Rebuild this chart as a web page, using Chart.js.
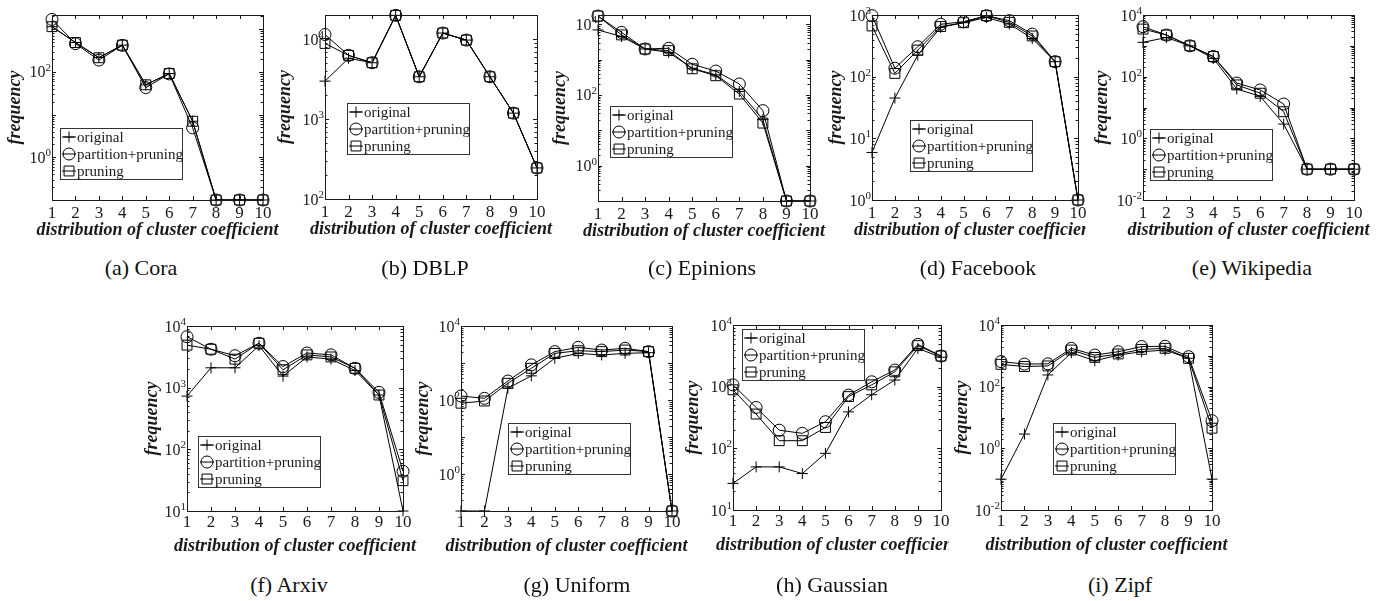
<!DOCTYPE html>
<html>
<head>
<meta charset="utf-8">
<script src="https://cdn.jsdelivr.net/npm/chart.js@4.4.1/dist/chart.umd.min.js"></script>
<style>
  body { margin: 0; background: #fff; width: 1393px; height: 601px; position: relative; overflow: hidden; }
  canvas { position: absolute; }
  .cap { position: absolute; font-family: "Liberation Serif", serif; font-size: 22px; color: #111;
         transform: translate(-50%, -50%); white-space: nowrap; }
</style>
</head>
<body>
<script>
// x categories shared by every panel
const categories = ['1', '2', '3', '4', '5', '6', '7', '8', '9', '10'];
const seriesNames = ['original', 'partition+pruning', 'pruning'];

// (a) Cora
const coraOriginal  = [1150, 490, 218, 425, 50, 92, 7, 0.1, 0.1, 0.1];
const coraPartition = [1700, 460, 190, 420, 43, 90, 4.9, 0.1, 0.1, 0.1];
const coraPruning   = [1150, 490, 215, 425, 50, 92, 7, 0.1, 0.1, 0.1];
const coraTicks = [1, 100];

// (b) DBLP
const dblpOriginal  = [3000, 5800, 5100, 20000, 3400, 12000, 9800, 3400, 1190, 245];
const dblpPartition = [11500, 6300, 5100, 20000, 3400, 12000, 9800, 3400, 1190, 245];
const dblpPruning   = [8900, 6300, 5100, 20000, 3400, 12000, 9800, 3400, 1190, 245];
const dblpTicks = [100, 1000, 10000];

// (c) Epinions
const epinionsOriginal  = [6900, 4500, 2000, 1600, 570, 370, 126, 20, 0.1, 0.1];
const epinionsPartition = [17100, 5900, 2000, 2100, 740, 475, 205, 36, 0.1, 0.1];
const epinionsPruning   = [17100, 5000, 2000, 1800, 550, 350, 106, 16, 0.1, 0.1];
const epinionsTicks = [1, 100, 10000];

// (d) Facebook
const facebookOriginal  = [5.9, 45, 223, 630, 750, 910, 715, 416, 175, 1];
const facebookPartition = [975, 137, 306, 707, 780, 975, 810, 490, 175, 1];
const facebookPruning   = [665, 113, 270, 650, 750, 975, 760, 457, 175, 1];
const facebookTicks = [1, 10, 100, 1000];

// (e) Wikipedia
const wikiOriginal  = [1300, 1860, 1000, 390, 40, 23, 2.9, 0.1, 0.1, 0.1];
const wikiPartition = [4170, 2240, 1000, 450, 62, 37, 13, 0.1, 0.1, 0.1];
const wikiPruning   = [3500, 2240, 1000, 450, 54, 29, 7.3, 0.1, 0.1, 0.1];
const wikiTicks = [0.01, 1, 100, 10000];

// (f) Arxiv
const arxivOriginal  = [730, 2100, 2100, 4800, 1540, 3150, 2900, 1900, 760, 10];
const arxivPartition = [6700, 4200, 3300, 5250, 2200, 3650, 3400, 2060, 840, 44];
const arxivPruning   = [4900, 4200, 2900, 5250, 1950, 3400, 3150, 2060, 760, 31];
const arxivTicks = [10, 100, 1000, 10000];

// (g) Uniform
const uniformOriginal  = [0.1, 0.1, 208, 450, 1340, 1820, 1650, 1820, 1900, 0.1];
const uniformPartition = [128, 111, 326, 890, 2030, 2650, 2240, 2500, 2030, 0.1];
const uniformPruning   = [82, 94, 283, 720, 1820, 2150, 2030, 2240, 2030, 0.1];
const uniformTicks = [1, 100, 10000];

// (h) Gaussian
const gaussOriginal  = [27, 50, 50, 39, 83, 390, 740, 1280, 4170, 3000];
const gaussPartition = [1070, 460, 197, 175, 270, 730, 1200, 1860, 4850, 3140];
const gaussPruning   = [890, 360, 133, 133, 218, 690, 1070, 1740, 4630, 3140];
const gaussTicks = [10, 100, 1000, 10000];

// (i) Zipf
const zipfOriginal  = [0.1, 2.9, 240, 1260, 690, 1060, 1360, 1540, 830, 0.1];
const zipfPartition = [650, 540, 550, 1750, 1060, 1360, 2000, 2040, 940, 7.9];
const zipfPruning   = [530, 450, 470, 1540, 890, 1150, 1620, 1750, 830, 4.5];
const zipfTicks = [0.01, 1, 100, 10000];

const SERIF = '"Liberation Serif", "Times New Roman", serif';
const INK = '#1a1a1a';
const TITLE_SIZE = 18;
const X_TITLE = 'distribution of cluster coefficient';

// plot box in page px: [left, top, right, bottom]
const panels = [
  { cap: '(a) Cora',      capX: 141,  capY: 268, box: [52, 15, 263, 200],   ymin: 0.1, ymax: 2160,  ticks: coraTicks,     data: [coraOriginal, coraPartition, coraPruning],             leg: [8, 113], yGap: 37, xGap: 30.5, tGap: 14, rpad: 18 },
  { cap: '(b) DBLP',      capX: 425,  capY: 268, box: [325, 15, 537, 199],  ymin: 100, ymax: 20200, ticks: dblpTicks,     data: [dblpOriginal, dblpPartition, dblpPruning],             leg: [22, 88], yGap: 40, xGap: 30.5, tGap: 14, rpad: 18 },
  { cap: '(c) Epinions',  capX: 702,  capY: 268, box: [598, 15, 810, 201],  ymin: 0.1, ymax: 18300, ticks: epinionsTicks, data: [epinionsOriginal, epinionsPartition, epinionsPruning], leg: [12, 91], yGap: 38, xGap: 30.5, tGap: 14, rpad: 18 },
  { cap: '(d) Facebook',  capX: 978,  capY: 268, box: [872, 15, 1083, 200], ymin: 1,   ymax: 1000,  ticks: facebookTicks, data: [facebookOriginal, facebookPartition, facebookPruning], leg: [38, 105], yGap: 36, xGap: 30.5, tGap: 14, rpad: 3 },
  { cap: '(e) Wikipedia', capX: 1252, capY: 268, box: [1143, 15, 1354, 200],ymin: 0.01, ymax: 10000, ticks: wikiTicks,    data: [wikiOriginal, wikiPartition, wikiPruning],             leg: [7, 114], yGap: 41, xGap: 30.5, tGap: 14, rpad: 22 },
  { cap: '(f) Arxiv',     capX: 289,  capY: 585, box: [187, 326, 403, 511], ymin: 10,  ymax: 10000, ticks: arxivTicks,    data: [arxivOriginal, arxivPartition, arxivPruning],          leg: [11, 110], yGap: 35, xGap: 35, tGap: 12, rpad: 18 },
  { cap: '(g) Uniform',   capX: 577,  capY: 585, box: [461, 326, 672, 511], ymin: 0.1, ymax: 10000, ticks: uniformTicks,  data: [uniformOriginal, uniformPartition, uniformPruning],    leg: [47, 97], yGap: 38, xGap: 35, tGap: 12, rpad: 18 },
  { cap: '(h) Gaussian',  capX: 832,  capY: 585, box: [733, 325, 944, 510], ymin: 10,  ymax: 10000, ticks: gaussTicks,    data: [gaussOriginal, gaussPartition, gaussPruning],          leg: [9, 4], yGap: 40, xGap: 35, tGap: 12, rpad: 5 },
  { cap: '(i) Zipf',      capX: 1120, capY: 585, box: [1001, 325, 1212, 510], ymin: 0.01, ymax: 10000, ticks: zipfTicks, data: [zipfOriginal, zipfPartition, zipfPruning],             leg: [52, 98], yGap: 39, xGap: 35, tGap: 12, rpad: 18 }
];

const markerStyles = [
  { pointStyle: 'cross', pointRadius: 5.5 },
  { pointStyle: 'circle', pointRadius: 6 },
  { pointStyle: 'rect', pointRadius: 7 }
];

function drawMarker(ctx, style, x, y, r) {
  ctx.beginPath();
  if (style === 'cross') {
    ctx.moveTo(x - r, y); ctx.lineTo(x + r, y);
    ctx.moveTo(x, y - r); ctx.lineTo(x, y + r);
  } else if (style === 'circle') {
    ctx.arc(x, y, r, 0, Math.PI * 2);
  } else {
    const s = r * Math.SQRT1_2;
    ctx.rect(x - s, y - s, 2 * s, 2 * s);
  }
  ctx.stroke();
}

// box, inward ticks, 10^n labels, x title and the legend, matlab style
const matlabFrame = {
  id: 'matlabFrame',
  afterDraw(chart, args, opts) {
    const { ctx, chartArea: a, scales: { x, y } } = chart;
    ctx.save();
    ctx.strokeStyle = INK;
    ctx.lineWidth = 1;
    ctx.strokeRect(a.left + 0.5, a.top + 0.5, a.right - a.left, a.bottom - a.top);

    ctx.beginPath();
    categories.forEach((c, i) => {
      const px = Math.round(x.getPixelForTick(i)) + 0.5;
      ctx.moveTo(px, a.bottom); ctx.lineTo(px, a.bottom - 4);
      ctx.moveTo(px, a.top); ctx.lineTo(px, a.top + 4);
    });
    const lo = Math.floor(Math.log10(y.min)), hi = Math.ceil(Math.log10(y.max));
    for (let d = lo; d <= hi; d++) {
      for (let m = 1; m <= 9; m++) {
        const v = m * Math.pow(10, d);
        if (v < y.min * 0.999 || v > y.max * 1.001) continue;
        const py = Math.round(y.getPixelForValue(v)) + 0.5;
        const len = m === 1 ? 4 : 2.5;
        ctx.moveTo(a.left, py); ctx.lineTo(a.left + len, py);
        ctx.moveTo(a.right, py); ctx.lineTo(a.right - len, py);
      }
    }
    ctx.stroke();

    // y tick labels as 10 with raised exponent
    ctx.fillStyle = INK;
    ctx.textBaseline = 'alphabetic';
    opts.ticks.forEach(v => {
      const e = String(Math.round(Math.log10(v)));
      const py = y.getPixelForValue(v);
      ctx.font = '11px ' + SERIF;
      const ew = ctx.measureText(e).width;
      ctx.textAlign = 'left';
      ctx.fillText(e, a.left - 1 - ew, py - 1);
      ctx.font = '16px ' + SERIF;
      ctx.textAlign = 'right';
      ctx.fillText('10', a.left - 1 - ew, py + 5.5);
    });

    // x axis title, not squeezed to the axis width
    ctx.font = 'italic bold ' + TITLE_SIZE + 'px ' + SERIF;
    ctx.textAlign = 'center';
    ctx.textBaseline = 'middle';
    ctx.fillText(X_TITLE, (a.left + a.right) / 2, a.bottom + opts.xGap);

    // legend box
    const lx = Math.round(a.left + opts.leg[0]), ly = Math.round(a.top + opts.leg[1]);
    const w = 122, h = 51;
    ctx.fillStyle = '#fff';
    ctx.fillRect(lx, ly, w, h);
    ctx.strokeStyle = '#333';
    ctx.strokeRect(lx + 0.5, ly + 0.5, w, h);
    ctx.font = '15px ' + SERIF;
    ctx.textAlign = 'left';
    ctx.textBaseline = 'middle';
    chart.data.datasets.forEach((ds, k) => {
      const cy = ly + h * (2 * k + 1) / 6 + 0.5;
      ctx.strokeStyle = '#000';
      ctx.beginPath();
      ctx.moveTo(lx + 2, cy); ctx.lineTo(lx + 16, cy);
      ctx.stroke();
      drawMarker(ctx, ds.pointStyle, lx + 9, cy, ds.pointRadius);
      ctx.fillStyle = INK;
      ctx.fillText(ds.label, lx + 17, cy + 1);
    });
    ctx.restore();
  }
};

const YW = 52, TOP = 12;

panels.forEach(p => {
  const [L, T, R, B] = p.box;
  const XH = Math.round(p.xGap + 15);
  const cv = document.createElement('canvas');
  cv.width = (R - L) + YW + p.rpad;
  cv.height = (B - T) + TOP + XH;
  cv.style.left = (L - YW) + 'px';
  cv.style.top = (T - TOP) + 'px';
  document.body.appendChild(cv);

  const cap = document.createElement('div');
  cap.className = 'cap';
  cap.textContent = p.cap;
  cap.style.left = p.capX + 'px';
  cap.style.top = p.capY + 'px';
  document.body.appendChild(cap);

  const datasets = p.data.map((vals, k) => ({
    label: seriesNames[k],
    data: vals,
    borderColor: '#000',
    borderWidth: 1,
    pointStyle: markerStyles[k].pointStyle,
    pointRadius: markerStyles[k].pointRadius,
    pointHoverRadius: markerStyles[k].pointRadius,
    pointBorderColor: '#000',
    pointBackgroundColor: 'rgba(0,0,0,0)',
    pointBorderWidth: 1,
    tension: 0,
    fill: false,
    clip: false
  }));

  const titleLH = TITLE_SIZE * 1.2;

  new Chart(cv, {
    type: 'line',
    data: { labels: categories, datasets },
    options: {
      responsive: false,
      animation: false,
      events: [],
      layout: { padding: { top: TOP, right: p.rpad, left: 0, bottom: 0 } },
      plugins: {
        legend: { display: false },
        tooltip: { enabled: false },
        matlabFrame: { ticks: p.ticks, leg: p.leg, xGap: p.xGap }
      },
      scales: {
        x: {
          type: 'category',
          offset: false,
          grid: { display: false, drawTicks: false, tickLength: 0 },
          border: { display: false },
          ticks: { color: INK, font: { family: SERIF, size: 17 }, padding: p.tGap - 10.2, maxRotation: 0, autoSkip: false },
          afterFit(s) { s.height = XH; s.paddingLeft = 0; s.paddingRight = 0; }
        },
        y: {
          type: 'logarithmic',
          min: p.ymin,
          max: p.ymax,
          grid: { display: false, drawTicks: false },
          border: { display: false },
          ticks: { display: false },
          title: {
            display: true, text: 'frequency', color: INK,
            font: { family: SERIF, size: TITLE_SIZE, style: 'italic', weight: 'bold' },
            padding: { top: YW - p.yGap - titleLH / 2, bottom: 0 }
          },
          afterFit(s) { s.width = YW; s.paddingTop = 0; s.paddingBottom = 0; }
        }
      }
    },
    plugins: [matlabFrame]
  });
});
</script>
</body>
</html>
